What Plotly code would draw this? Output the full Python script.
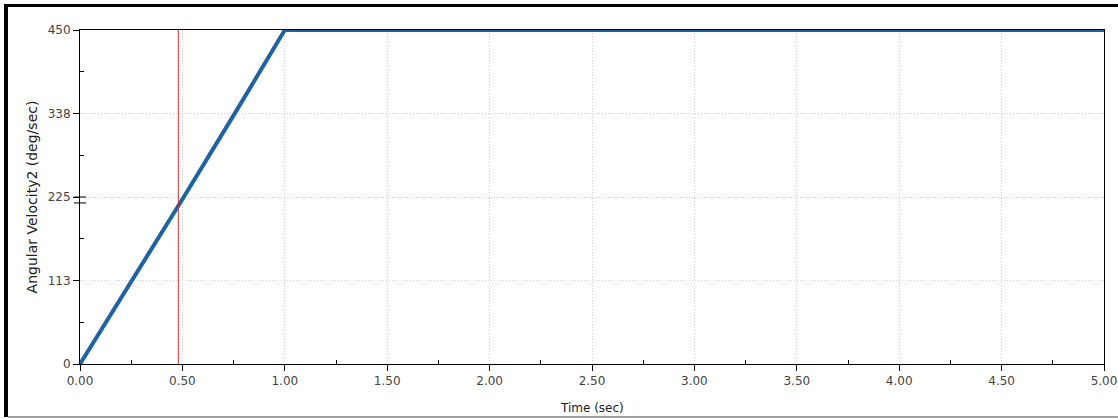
import plotly.graph_objects as go

# Angular velocity of body 2 over time
time_s = [0.0, 0.25, 0.5, 0.75, 1.0, 5.0]
ang_vel = [0.0, 110.0, 222.0, 335.0, 450.0, 450.0]

# Cursor position
cursor_t = 0.48

x_ticks = [0.0, 0.5, 1.0, 1.5, 2.0, 2.5, 3.0, 3.5, 4.0, 4.5, 5.0]
x_labels = [f"{v:.2f}" for v in x_ticks]
y_ticks = [0.0, 112.5, 225.0, 337.5, 450.0]
y_labels = ["0", "113", "225", "338", "450"]

W, H = 1118, 419
L, R, T, B = 80, 14, 30, 55
pw, ph = W - L - R, H - T - B


def px(x):
    return (x - L) / pw


def py(y):
    return (H - B - y) / ph


fig = go.Figure()

fig.add_trace(go.Scatter(
    x=time_s, y=ang_vel, mode="lines",
    line=dict(color="#1e62a6", width=4),
    hoverinfo="skip", showlegend=False,
))

fig.add_trace(go.Scatter(
    x=[cursor_t, cursor_t], y=[0, 450], mode="lines",
    line=dict(color="#c83636", width=1),
    hoverinfo="skip", showlegend=False,
))

font = "DejaVu Sans, Verdana, sans-serif"
grid = "#cfcfcf"

fig.update_layout(
    width=W, height=H,
    margin=dict(l=L, r=R, t=T, b=B, autoexpand=False),
    paper_bgcolor="white", plot_bgcolor="white",
    font=dict(family=font, size=11, color="#333333"),
    xaxis=dict(
        range=[0, 5], tickvals=x_ticks, ticktext=x_labels,
        showline=True, linecolor="black", linewidth=1, mirror=True,
        ticks="outside", ticklen=6, tickcolor="black",
        minor=dict(tickvals=[0.25 + 0.5 * i for i in range(10)],
                   ticks="inside", ticklen=4, tickcolor="black", showgrid=False),
        showgrid=True, gridcolor=grid, griddash="1px,2px", gridwidth=1,
        zeroline=False, automargin=False,
        tickfont=dict(size=12, color="#444444"),
    ),
    yaxis=dict(
        range=[0, 450], tickvals=y_ticks, ticktext=y_labels,
        showline=True, linecolor="black", linewidth=1, mirror=True,
        ticks="outside", ticklen=6, tickcolor="black",
        minor=dict(tickvals=[56.25, 168.75, 281.25, 393.75],
                   ticks="inside", ticklen=4, tickcolor="black", showgrid=False),
        showgrid=True, gridcolor=grid, griddash="1px,2px", gridwidth=1,
        zeroline=False, automargin=False,
        title=dict(text="Angular Velocity2 (deg/sec)", font=dict(size=14, color="#222222"), standoff=6),
        tickfont=dict(size=12, color="#444444"),
    ),
    annotations=[
        dict(text="Time (sec)", xref="paper", yref="paper",
             x=0.5, y=py(408), xanchor="center", yanchor="middle",
             showarrow=False, font=dict(size=12, color="#222222")),
    ],
    shapes=[
        # window frame
        dict(type="rect", xref="paper", yref="paper",
             x0=px(4), x1=px(8), y0=py(417), y1=py(4),
             fillcolor="black", line=dict(width=0), layer="above"),
        dict(type="rect", xref="paper", yref="paper",
             x0=px(4), x1=px(W), y0=py(7), y1=py(4),
             fillcolor="black", line=dict(width=0), layer="above"),
        dict(type="rect", xref="paper", yref="paper",
             x0=px(8), x1=px(W), y0=py(418), y1=py(416),
             fillcolor="#a0a0a0", line=dict(width=0), layer="above"),
        # axis break marker at 225
        dict(type="line", xref="paper", yref="y",
             x0=px(74), x1=px(86), y0=217, y1=217,
             line=dict(color="black", width=1), layer="above"),
        dict(type="line", xref="paper", yref="y",
             x0=px(74), x1=px(86), y0=225, y1=225,
             line=dict(color="black", width=1), layer="above"),
    ],
)

fig.write_html("out.html")
